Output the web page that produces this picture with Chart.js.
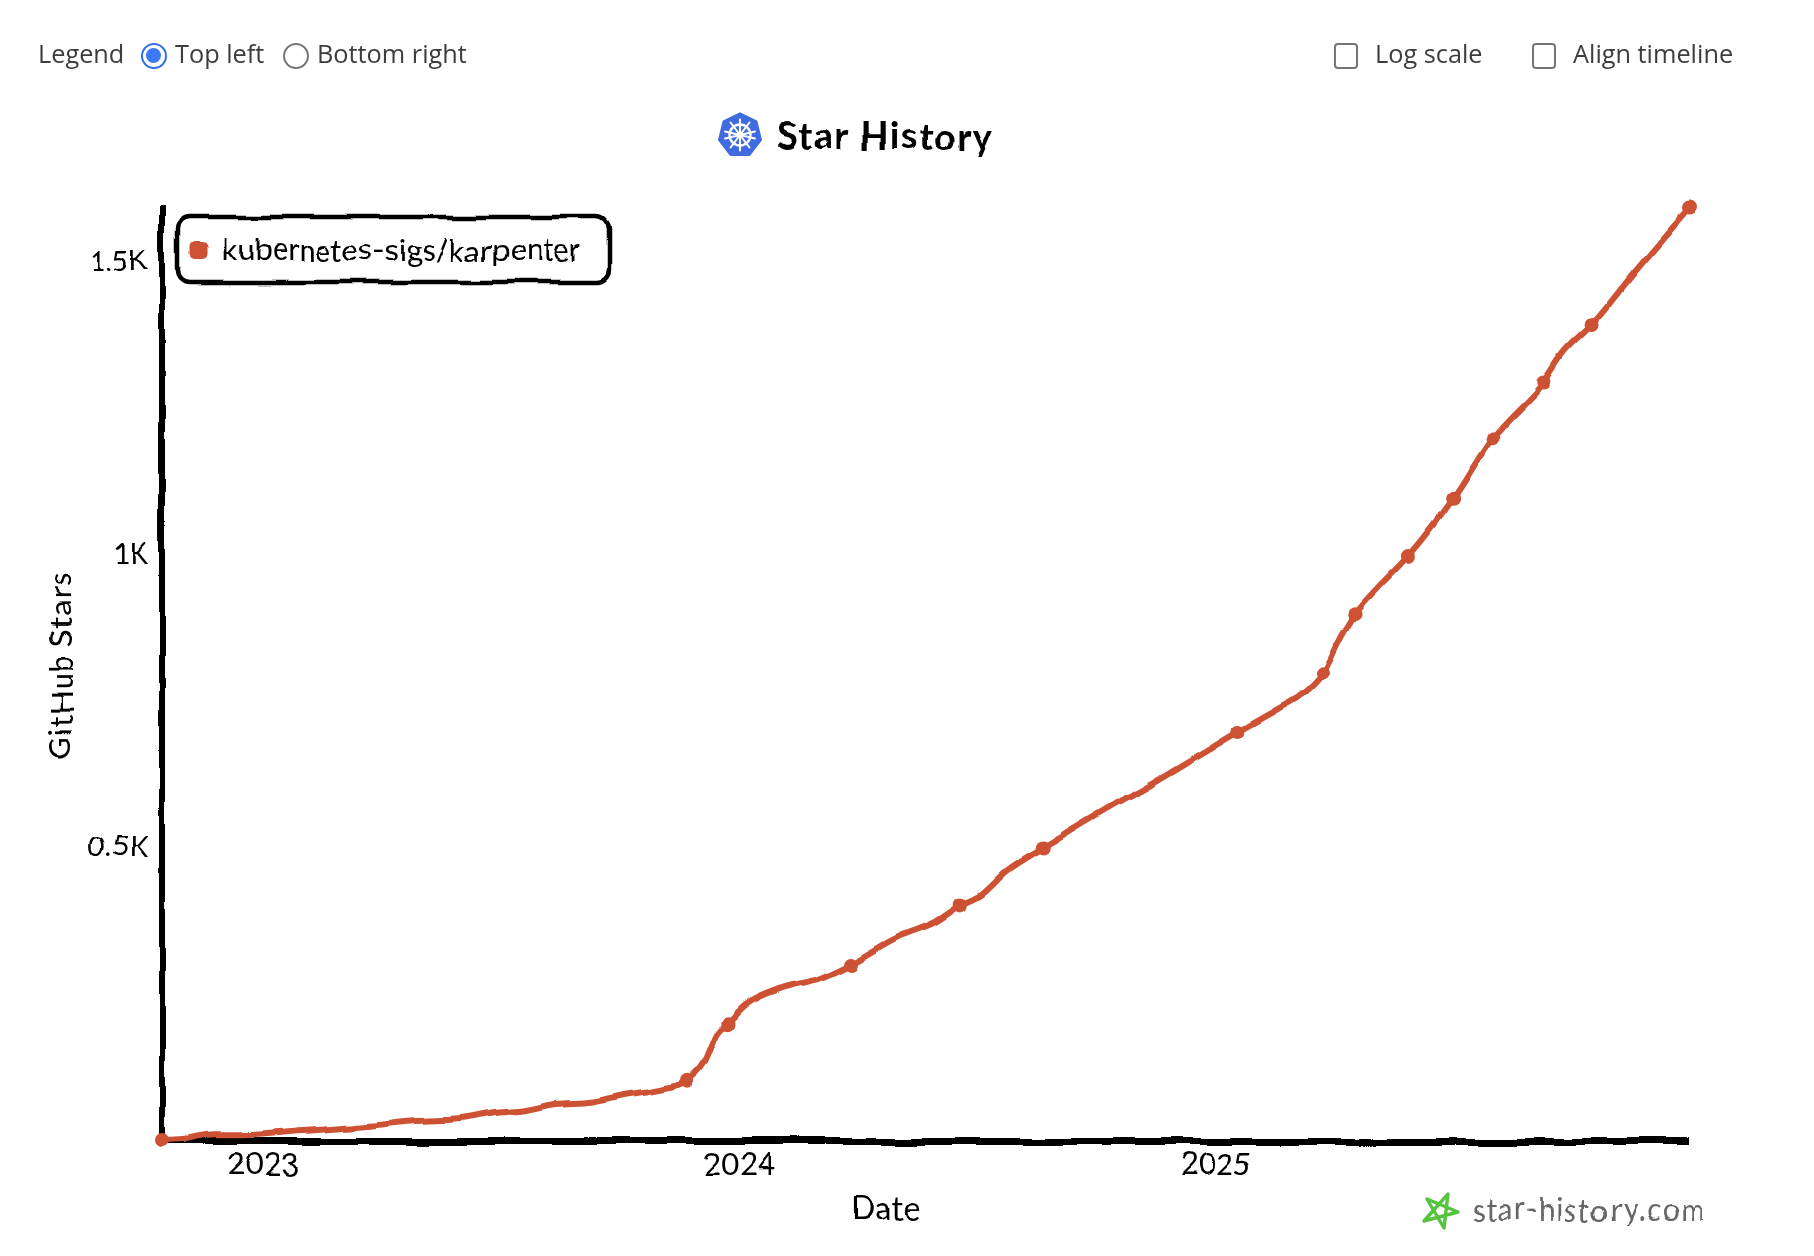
<!DOCTYPE html>
<html><head><meta charset="utf-8">
<script src="https://cdn.jsdelivr.net/npm/chart.js@4"></script>
<style>
html,body{margin:0;padding:0;background:#fff;width:1814px;height:1256px;overflow:hidden}
#wrap{position:relative;width:1814px;height:1256px}
#sketch{position:absolute;left:0;top:0;width:1814px;height:1256px;filter:url(#rough)}
canvas{display:block}
.ui{position:absolute;font-family:"Open Sans","Noto Sans",sans-serif;font-size:25.3px;color:#3d3d3d;line-height:30px;white-space:nowrap}
.radio{position:absolute;box-sizing:border-box;width:26px;height:26px;border-radius:50%;border:2px solid #767676;background:#fff}
.radio.on{border:2.5px solid #2f6fed}
.radio.on::after{content:"";position:absolute;left:3px;top:3px;width:15px;height:15px;border-radius:50%;background:#3b78f5}
.check{position:absolute;box-sizing:border-box;width:24px;height:26px;border-radius:4px;border:2px solid #767676;background:#fff}
.hand{position:absolute;font-family:Lato,sans-serif;color:#000;white-space:nowrap;transform-origin:center}
</style></head>
<body>
<svg width="0" height="0" style="position:absolute">
<filter id="rough" x="0" y="0" width="100%" height="100%" color-interpolation-filters="sRGB">
<feTurbulence type="fractalNoise" baseFrequency="0.018" numOctaves="2" seed="4" result="n"/>
<feDisplacementMap in="SourceGraphic" in2="n" scale="8" xChannelSelector="R" yChannelSelector="G"/>
</filter>
</svg>
<div id="wrap">
<div id="sketch">
<canvas id="c" width="1814" height="1256"></canvas>
<div class="hand" id="title" style="left:777px;top:111px;font-size:38px;font-weight:700;letter-spacing:1.3px">Star History</div>
<div class="hand" style="left:851px;top:1188px;font-size:32px;letter-spacing:.5px">Date</div>
<div class="hand" style="left:-30px;top:651px;width:180px;text-align:center;font-size:31px;letter-spacing:1.1px;transform:rotate(-90deg)">GitHub Stars</div>
<div class="hand" style="left:1471px;top:1191px;font-size:30px;color:#666;letter-spacing:1.4px">star-history.com</div>
</div>
<div class="ui" style="left:38px;top:38px">Legend</div>
<div class="radio on" style="left:141px;top:43px"></div>
<div class="ui" style="left:175px;top:38px">Top left</div>
<div class="radio" style="left:283px;top:43px"></div>
<div class="ui" style="left:317px;top:38px">Bottom right</div>
<div class="check" style="left:1334px;top:43px"></div>
<div class="ui" style="left:1375px;top:38px">Log scale</div>
<div class="check" style="left:1532px;top:43px"></div>
<div class="ui" style="left:1573px;top:38px">Align timeline</div>
<svg style="position:absolute;left:717px;top:112px" width="46" height="46" viewBox="-23 -23 46 46">
<polygon points="0,-21.5 16.5,-13.5 21,5 9.5,20 -9.5,20 -21,5 -16.5,-13.5" fill="#416ce0" stroke="#416ce0" stroke-width="2" stroke-linejoin="round"/>
<g stroke="#fff" fill="none" stroke-linecap="round">
<circle r="10.5" stroke-width="2.4"/>
<circle r="2" stroke-width="2"/>
<path stroke-width="2" d="M0-15.5V15.5M-15-3.5L15 3.5M15-3.5L-15 3.5M-9.5-12.5L9.5 12.5M9.5-12.5L-9.5 12.5"/>
</g>
</svg>
<svg style="position:absolute;left:1420px;top:1190px" width="42" height="42" viewBox="0 0 42 42">
<path d="M28 4 L24 38 L7 9 L38 22 L4 31 Z" fill="none" stroke="#55c53f" stroke-width="3.4" stroke-linejoin="round"/>
</svg>
</div>
<script>
const seriesName = "kubernetes-sigs/karpenter";
const dates = ["2022-10-15","2022-11-02","2022-11-24","2022-12-16","2023-01-25","2023-03-24","2023-04-28","2023-06-03","2023-06-25","2023-07-22","2023-08-13","2023-09-08","2023-10-05","2023-11-01","2023-11-22","2023-12-04","2023-12-15","2023-12-23","2024-01-06","2024-02-02","2024-02-29","2024-03-26","2024-05-01","2024-05-30","2024-06-19","2024-07-05","2024-07-24","2024-08-21","2024-10-08","2024-11-17","2024-12-22","2025-01-18","2025-02-18","2025-03-08","2025-03-24","2025-04-08","2025-04-18","2025-05-04","2025-05-29","2025-07-02","2025-08-01","2025-09-10","2025-09-25","2025-10-17","2025-11-20","2025-12-30"];
const stars = [0,2,10,10,16,26,34,38,47,53,63,67,79,89,103,130,185,201,232,260,276,302,347,373,402,420,459,499,564,615,662,698,737,761,798,863,899,940,998,1096,1199,1296,1345,1394,1487,1591];
const markedDates = ["2022-10-15","2023-11-22","2023-12-23","2024-03-26","2024-06-19","2024-08-21","2025-01-18","2025-03-24","2025-04-18","2025-05-29","2025-07-02","2025-08-01","2025-09-10","2025-10-17","2025-12-30"];
const yearTicks = [2023,2024,2025];
const starTicks = [500,1000,1500];
const starTickLabels = ["0.5K","1K","1.5K"];
const xMin = "2022-10-15", xMax = "2025-12-30", yMax = 1592;
const lineColor = "#cd5233";
const t = d => Date.parse(d + "T00:00:00Z");

const legendFrame = {
  id:"legendFrame",
  afterLayout(chart){
    const l = chart.legend;
    l.left -= 5; l.right -= 5; l.top += 201; l.bottom += 201;
  },
  afterDraw(chart){
    const c = chart.ctx; c.save();
    c.strokeStyle="#000"; c.lineWidth=4.5;
    c.beginPath(); c.roundRect(178,217,431,65,12); c.stroke();
    c.restore();
  }
};
new Chart(document.getElementById("c"),{
  type:"line",
  data:{datasets:[{
    label:seriesName,
    data:dates.map((d,i)=>({x:t(d),y:stars[i]})),
    borderColor:lineColor, backgroundColor:lineColor, borderWidth:6,
    cubicInterpolationMode:"monotone", clip:false,
    pointRadius:c=>markedDates.includes(dates[c.dataIndex])?7:0,
    pointBackgroundColor:lineColor, pointBorderColor:lineColor, pointBorderWidth:0
  }]},
  options:{
    responsive:false, animation:false, devicePixelRatio:1,
    layout:{padding:{left:0,right:125,top:208,bottom:0}},
    plugins:{
      tooltip:{enabled:false},
      title:{display:false},
      legend:{display:true,position:"chartArea",align:"start",
        labels:{font:{family:"Lato",size:31},color:"#000",usePointStyle:true,pointStyle:"rectRounded",boxWidth:14,boxHeight:14,padding:34}}
    },
    scales:{
      x:{type:"linear",min:t(xMin),max:t(xMax),
        afterFit(s){s.height=115;},
        afterBuildTicks(s){s.ticks=yearTicks.map(y=>({value:t(y+"-01-01")}));},
        ticks:{autoSkip:false,maxRotation:0,padding:5,color:"#000",font:{family:"Lato",size:31},
          callback:v=>new Date(v).getUTCFullYear()},
        grid:{display:false,drawTicks:false},border:{display:true,color:"#000",width:7}},
      y:{type:"linear",min:0,max:yMax,
        afterFit(s){s.width=162;},
        afterBuildTicks(s){s.ticks=starTicks.map(v=>({value:v}));},
        ticks:{autoSkip:false,padding:14,color:"#000",font:{family:"Lato",size:28},
          callback:v=>starTickLabels[starTicks.indexOf(v)]},
        grid:{display:false,drawTicks:false},border:{display:true,color:"#000",width:6}}
    }
  },
  plugins:[legendFrame]
});
</script>
</body></html>
